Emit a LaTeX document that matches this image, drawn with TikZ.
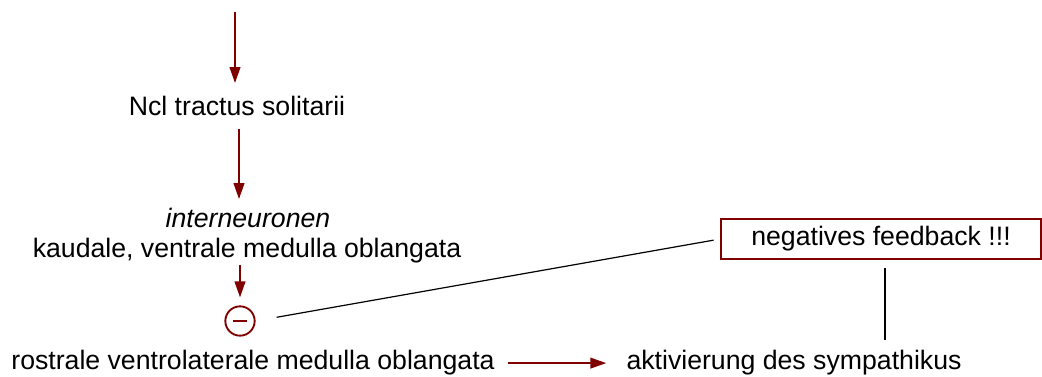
\documentclass[tikz,border=0pt]{standalone}
\usepackage{xcolor}
\usepackage{fontspec}
\setmainfont{Liberation Sans}
\usepackage{tikz}
\usetikzlibrary{arrows.meta, positioning, shapes}

\definecolor{dkred}{RGB}{128,0,0}

\tikzset{
  lbl/.style={inner sep=0pt, anchor=base, font=\fontsize{20}{24}\selectfont},
  redarrow/.style={draw=dkred, line width=1.5pt, -{Triangle[length=12pt,width=8pt]}},
  thinline/.style={draw=black, line width=0.9pt},
  fbbox/.style={draw=dkred, line width=1.3pt, minimum width=240pt, minimum height=30pt,
    inner sep=0pt, font=\fontsize{20}{24}\selectfont},
  inhib/.style={circle, draw=dkred, line width=1.4pt, minimum size=22pt, inner sep=0pt}
}

\begin{document}
\begin{tikzpicture}[x=0.75pt, y=-0.75pt]
    \useasboundingbox (0,0) rectangle (1042,377);

    \node[lbl] (ncl) at (237,116) {Ncl tractus solitarii};
    \node[lbl] (inter) at (248,228) {\itshape interneuronen};
    \node[lbl] (kaud) at (247,258) {kaudale, ventrale medulla oblangata};
    \node[inhib] (minus) at (240,321) {\textcolor{dkred}{\rule[0.1pt]{11pt}{1.5pt}}};
    \node[lbl] (rvlm) at (253,370) {rostrale ventrolaterale medulla oblangata};
    \node[lbl] (sympa) at (794,370) {aktivierung des sympathikus};
    \node[fbbox] (fb) at (881,239) {negatives feedback !!!};

    \coordinate (top) at (235,12);

    % afferenter Weg
    \draw[redarrow, shorten >=10pt] (top) -- (top |- ncl.north);
    \draw[redarrow, shorten <=9pt, shorten >=7pt] ([xshift=1.5pt]ncl.south) -- ([xshift=1.5pt]ncl.south |- inter.north);
    \draw[redarrow, shorten <=1pt, shorten >=6pt] (minus.north |- kaud.south) -- (minus.north);
    \draw[redarrow, shorten <=10pt, shorten >=15pt] (rvlm.east) -- (rvlm.east -| sympa.west);

    % Rueckkopplung
    \draw[thinline, shorten <=16pt, shorten >=5pt] (minus.east) -- (fb.west);
    \draw[thinline, shorten <=6pt, shorten >=8pt] ([xshift=3pt]fb.south) -- ([xshift=3pt]fb.south |- sympa.north);
\end{tikzpicture}
\end{document}
